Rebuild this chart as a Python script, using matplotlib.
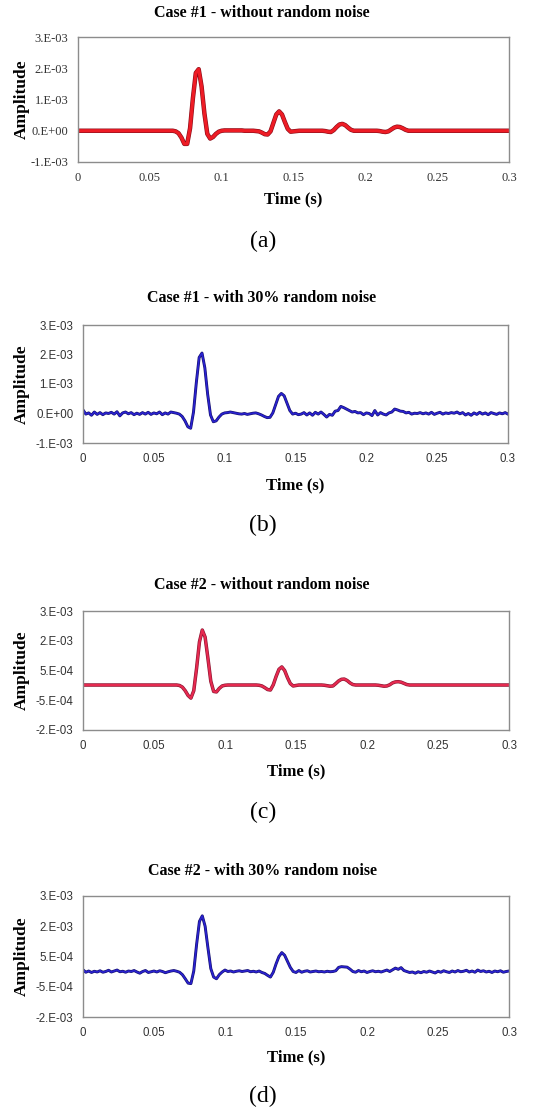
import matplotlib
matplotlib.use("Agg")
import matplotlib.pyplot as plt
import matplotlib.patheffects as pe
import numpy as np

# time axis, 2 ms steps from 0 to 0.3 s
t = np.round(np.arange(151) * 0.002, 3)

# amplitudes below are in units of 1e-3

# (a) Case #1 - without random noise
case1_clean = [
    0.00, 0.00, 0.00, 0.00, 0.00, 0.00, 0.00, 0.00, 0.00, 0.00,
    0.00, 0.00, 0.00, 0.00, 0.00, 0.00, 0.00, 0.00, 0.00, 0.00,
    0.00, 0.00, 0.00, 0.00, 0.00, 0.00, 0.00, 0.00, 0.00, 0.00,
    0.00, 0.00, 0.00, 0.00, -0.02, -0.08, -0.22, -0.42, -0.42, 0.08,
    1.05, 1.85, 1.97, 1.42, 0.55, -0.10, -0.25, -0.20, -0.10, -0.03,
    0.00, 0.01, 0.01, 0.01, 0.01, 0.01, 0.01, 0.01, 0.00, 0.00,
    0.00, 0.00, -0.01, -0.02, -0.06, -0.11, -0.12, -0.02, 0.25, 0.52,
    0.62, 0.52, 0.28, 0.06, -0.03, -0.02, -0.01, 0.00, 0.00, 0.00,
    0.00, 0.00, 0.00, 0.00, 0.00, 0.00, -0.01, -0.03, -0.04, 0.02,
    0.12, 0.20, 0.22, 0.18, 0.10, 0.03, 0.00, 0.00, 0.00, 0.00,
    0.00, 0.00, 0.00, 0.00, 0.00, -0.01, -0.03, -0.04, -0.02, 0.04,
    0.10, 0.13, 0.12, 0.08, 0.03, 0.00, 0.00, 0.00, 0.00, 0.00,
    0.00, 0.00, 0.00, 0.00, 0.00, 0.00, 0.00, 0.00, 0.00, 0.00,
    0.00, 0.00, 0.00, 0.00, 0.00, 0.00, 0.00, 0.00, 0.00, 0.00,
    0.00, 0.00, 0.00, 0.00, 0.00, 0.00, 0.00, 0.00, 0.00, 0.00,
    0.00,
]

# (b) Case #1 - with 30% random noise
case1_noisy = [
    0.12, -0.02, 0.02, -0.06, 0.05, -0.03, 0.03, -0.04, 0.02, 0.00,
    0.04, -0.02, 0.06, -0.08, 0.02, 0.05, -0.01, 0.03, -0.04, 0.01,
    -0.03, 0.03, -0.02, 0.04, -0.03, 0.02, -0.01, 0.05, -0.04, 0.02,
    -0.02, 0.05, 0.03, 0.01, -0.02, -0.10, -0.25, -0.45, -0.50, 0.05,
    1.05, 1.90, 2.05, 1.55, 0.65, -0.05, -0.28, -0.25, -0.12, -0.02,
    0.02, 0.03, 0.05, 0.03, 0.01, -0.01, -0.02, 0.00, -0.03, -0.01,
    0.01, 0.02, -0.01, -0.05, -0.10, -0.14, -0.13, 0.02, 0.30, 0.58,
    0.68, 0.60, 0.35, 0.10, -0.02, 0.01, -0.04, -0.02, 0.03, -0.05,
    0.02, -0.06, 0.04, -0.02, 0.05, -0.03, -0.12, -0.03, -0.06, 0.08,
    0.10, 0.24, 0.20, 0.15, 0.10, 0.05, 0.07, 0.02, 0.03, -0.04,
    0.02, 0.00, -0.07, 0.10, -0.05, 0.03, -0.02, -0.05, 0.02, 0.05,
    0.15, 0.12, 0.08, 0.07, 0.02, 0.04, -0.02, 0.01, 0.00, 0.03,
    -0.01, 0.02, -0.02, 0.04, -0.03, 0.01, 0.04, -0.02, 0.02, 0.00,
    0.03, 0.01, 0.05, -0.01, 0.03, -0.05, 0.00, -0.06, 0.02, -0.03,
    0.04, -0.02, 0.02, -0.04, 0.03, 0.00, -0.03, 0.02, -0.01, 0.03,
    -0.02,
]

# (c) Case #2 - without random noise
case2_clean = [
    -0.11, -0.11, -0.11, -0.11, -0.11, -0.11, -0.11, -0.11, -0.11, -0.11,
    -0.11, -0.11, -0.11, -0.11, -0.11, -0.11, -0.11, -0.11, -0.11, -0.11,
    -0.11, -0.11, -0.11, -0.11, -0.11, -0.11, -0.11, -0.11, -0.11, -0.11,
    -0.11, -0.11, -0.11, -0.11, -0.13, -0.20, -0.35, -0.55, -0.66, -0.35,
    0.60, 1.70, 2.20, 1.90, 1.00, 0.05, -0.38, -0.40, -0.25, -0.15,
    -0.12, -0.11, -0.11, -0.11, -0.11, -0.11, -0.11, -0.11, -0.11, -0.11,
    -0.11, -0.11, -0.12, -0.15, -0.22, -0.30, -0.32, -0.10, 0.25, 0.55,
    0.65, 0.50, 0.20, -0.05, -0.15, -0.13, -0.11, -0.11, -0.11, -0.11,
    -0.11, -0.11, -0.11, -0.11, -0.11, -0.12, -0.14, -0.16, -0.15, -0.05,
    0.06, 0.13, 0.14, 0.08, -0.02, -0.09, -0.11, -0.11, -0.11, -0.11,
    -0.11, -0.11, -0.11, -0.11, -0.12, -0.14, -0.16, -0.15, -0.10, -0.02,
    0.02, 0.03, 0.01, -0.04, -0.09, -0.11, -0.11, -0.11, -0.11, -0.11,
    -0.11, -0.11, -0.11, -0.11, -0.11, -0.11, -0.11, -0.11, -0.11, -0.11,
    -0.11, -0.11, -0.11, -0.11, -0.11, -0.11, -0.11, -0.11, -0.11, -0.11,
    -0.11, -0.11, -0.11, -0.11, -0.11, -0.11, -0.11, -0.11, -0.11, -0.11,
    -0.11,
]

# (d) Case #2 - with 30% random noise
case2_noisy = [
    -0.05, -0.15, -0.10, -0.16, -0.11, -0.14, -0.09, -0.15, -0.12, -0.07,
    -0.14, -0.10, -0.06, -0.13, -0.11, -0.15, -0.10, -0.12, -0.08, -0.14,
    -0.19, -0.12, -0.08, -0.16, -0.13, -0.10, -0.14, -0.09, -0.12, -0.17,
    -0.13, -0.10, -0.08, -0.11, -0.15, -0.25, -0.42, -0.60, -0.62, -0.10,
    1.00, 1.95, 2.18, 1.75, 0.85, 0.00, -0.35, -0.42, -0.25, -0.14,
    -0.06, -0.12, -0.10, -0.14, -0.11, -0.09, -0.12, -0.10, -0.08, -0.13,
    -0.11, -0.14, -0.10, -0.16, -0.20, -0.28, -0.35, -0.15, 0.20, 0.50,
    0.66, 0.55, 0.30, 0.05, -0.12, -0.16, -0.08, -0.15, -0.11, -0.09,
    -0.14, -0.12, -0.10, -0.13, -0.12, -0.14, -0.11, -0.13, -0.12, -0.09,
    0.05, 0.08, 0.07, 0.06, -0.02, -0.12, -0.15, -0.08, -0.13, -0.10,
    -0.16, -0.12, -0.09, -0.13, -0.11, -0.14, -0.10, -0.06, -0.12, -0.05,
    0.02, -0.03, 0.04, -0.08, -0.12, -0.16, -0.14, -0.19, -0.13, -0.17,
    -0.12, -0.15, -0.10, -0.14, -0.18, -0.11, -0.15, -0.09, -0.13, -0.16,
    -0.10, -0.14, -0.08, -0.13, -0.11, -0.07, -0.14, -0.10, -0.15, -0.06,
    -0.12, -0.09, -0.14, -0.11, -0.16, -0.10, -0.13, -0.09, -0.15, -0.12,
    -0.10,
]

titles = [
    "Case #1 - without random noise",
    "Case #1 - with 30% random noise",
    "Case #2 - without random noise",
    "Case #2 - with 30% random noise",
]
letters = ["(a)", "(b)", "(c)", "(d)"]

xticks = [0, 0.05, 0.1, 0.15, 0.2, 0.25, 0.3]
xticklabels = ["0", "0.05", "0.1", "0.15", "0.2", "0.25", "0.3"]

case1_yticks = [3, 2, 1, 0, -1]
case1_ylabels = ["3.E-03", "2.E-03", "1.E-03", "0.E+00", "-1.E-03"]
case2_yticks = [3, 1.75, 0.5, -0.75, -2]
case2_ylabels = ["3.E-03", "2.E-03", "5.E-04", "-5.E-04", "-2.E-03"]

W, H = 558, 1111
fig = plt.figure(figsize=(W / 100, H / 100), dpi=100)
fig.patch.set_facecolor("white")

SERIF = "Liberation Serif"
SANS = "Liberation Sans"

# (left, right, top, bottom) plot box in pixels, plus text rows
panels = [
    dict(box=(78, 509, 37, 162), title_y=13, xlab_y=199, let_y=241,
         data=case1_clean, yt=case1_yticks, yl=case1_ylabels, ylim=(-1, 3),
         color="#ee1c25", edge="#8a0c18", lw=2.3, tickfont=SERIF, tfs=9),
    dict(box=(83, 508, 325, 443), title_y=298, xlab_y=485, let_y=525,
         data=case1_noisy, yt=case1_yticks, yl=case1_ylabels, ylim=(-1, 3),
         color="#2a22d0", edge="#14106e", lw=1.2, tickfont=SANS, tfs=8.3),
    dict(box=(83, 509, 611, 730), title_y=585, xlab_y=771, let_y=812,
         data=case2_clean, yt=case2_yticks, yl=case2_ylabels, ylim=(-2, 3),
         color="#e62a50", edge="#8a1430", lw=1.6, tickfont=SANS, tfs=8.3),
    dict(box=(83, 509, 896, 1017), title_y=871, xlab_y=1057, let_y=1096,
         data=case2_noisy, yt=case2_yticks, yl=case2_ylabels, ylim=(-2, 3),
         color="#2a22d0", edge="#14106e", lw=1.2, tickfont=SANS, tfs=8.3),
]

for i, p in enumerate(panels):
    l, r, top, bot = p["box"]
    ax = fig.add_axes([l / W, 1 - bot / H, (r - l) / W, (bot - top) / H])
    y = np.array(p["data"]) * 1e-3
    ax.plot(t, y, color=p["color"], lw=p["lw"], solid_joinstyle="round",
            path_effects=[pe.Stroke(linewidth=p["lw"] + 0.9, foreground=p["edge"]),
                          pe.Normal()])
    ax.set_xlim(0, 0.3)
    ax.set_ylim(p["ylim"][0] * 1e-3, p["ylim"][1] * 1e-3)
    ax.set_xticks(xticks)
    ax.set_xticklabels(xticklabels, fontfamily=p["tickfont"], fontsize=p["tfs"], color="#333333")
    ax.set_yticks(np.array(p["yt"]) * 1e-3)
    ax.set_yticklabels(p["yl"], fontfamily=p["tickfont"], fontsize=p["tfs"], color="#333333")
    ax.tick_params(length=0, pad=7)
    for s in ax.spines.values():
        s.set_color("#8c8c8c")
        s.set_linewidth(1.0)

    fig.text(262 / W, 1 - p["title_y"] / H, titles[i], ha="center", va="center",
             fontfamily=SERIF, fontweight="bold", fontsize=11.5)
    fig.text((l + r) / 2 / W, 1 - p["xlab_y"] / H, "Time (s)", ha="center", va="center",
             fontfamily=SERIF, fontweight="bold", fontsize=12)
    fig.text(22 / W, 1 - (top + bot) / 2 / H, "Amplitude", rotation=90, ha="center",
             va="center", fontfamily=SERIF, fontweight="bold", fontsize=12.5)
    fig.text(263 / W, 1 - p["let_y"] / H, letters[i], ha="center", va="center",
             fontfamily=SERIF, fontsize=17)

fig.savefig("out.png", dpi=100, facecolor="white")
